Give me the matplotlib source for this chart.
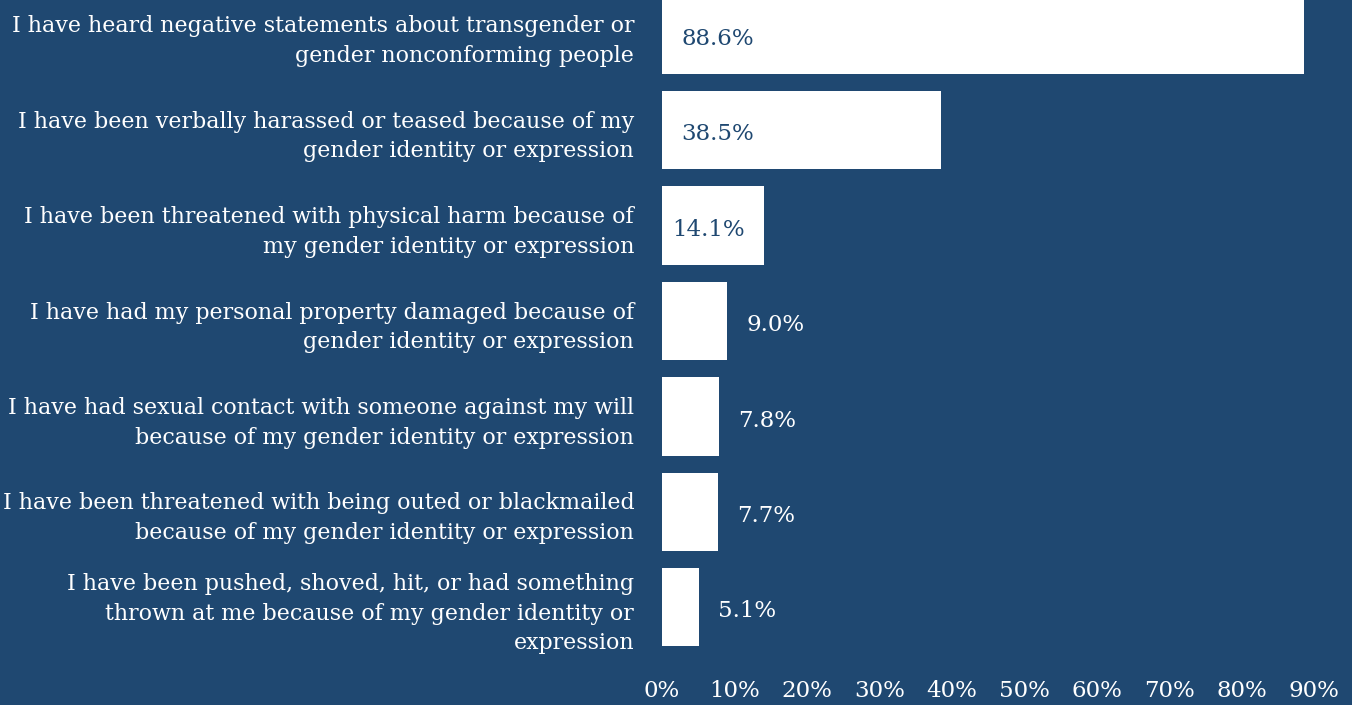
import matplotlib
matplotlib.use('Agg')
import matplotlib.pyplot as plt

bg = '#1f4871'

labels = [
    'I have heard negative statements about transgender or\ngender nonconforming people',
    'I have been verbally harassed or teased because of my\ngender identity or expression',
    'I have been threatened with physical harm because of\nmy gender identity or expression',
    'I have had my personal property damaged because of\ngender identity or expression',
    'I have had sexual contact with someone against my will\nbecause of my gender identity or expression',
    'I have been threatened with being outed or blackmailed\nbecause of my gender identity or expression',
    'I have been pushed, shoved, hit, or had something\nthrown at me because of my gender identity or\nexpression',
]
values = [88.6, 38.5, 14.1, 9.0, 7.8, 7.7, 5.1]
ticks = [0, 10, 20, 30, 40, 50, 60, 70, 80, 90]

plt.rcParams['font.family'] = ['DejaVu Serif']

fig = plt.figure(figsize=(13.52, 7.05), dpi=100, facecolor=bg)
ax = fig.add_axes([662/1352, 1 - 655/705, (1314 - 662)/1352, (655 + 13)/705])
ax.set_facecolor(bg)

y = list(range(len(values)))
ax.barh(y, values, height=0.82, color='white')
ax.set_ylim(len(values) - 0.5, -0.5)
ax.set_xlim(0, 90)

# value labels: inside for the long bars, just past the end for short ones
for i, v in enumerate(values):
    txt = '%.1f%%' % v
    if v > 20:
        ax.annotate(txt, (0, i), xytext=(14, -3), textcoords='offset points',
                    va='center', ha='left', color=bg, fontsize=16.5)
    elif v > 10:
        ax.annotate(txt, (0, i), xytext=(7, -3), textcoords='offset points',
                    va='center', ha='left', color=bg, fontsize=16.5)
    else:
        ax.annotate(txt, (v, i), xytext=(14, -3), textcoords='offset points',
                    va='center', ha='left', color='white', fontsize=16.5)

ax.set_yticks(y)
ax.set_yticklabels(labels, fontsize=15.9, color='white', ha='right',
                   linespacing=1.45)
ax.set_xticks(ticks)
ax.set_xticklabels(['%d%%' % t for t in ticks], fontsize=16.5, color='white')
ax.tick_params(axis='y', length=0, pad=20)
ax.tick_params(axis='x', length=0, pad=18)
for s in ax.spines.values():
    s.set_visible(False)

fig.savefig('out.png', dpi=100, facecolor=bg)
